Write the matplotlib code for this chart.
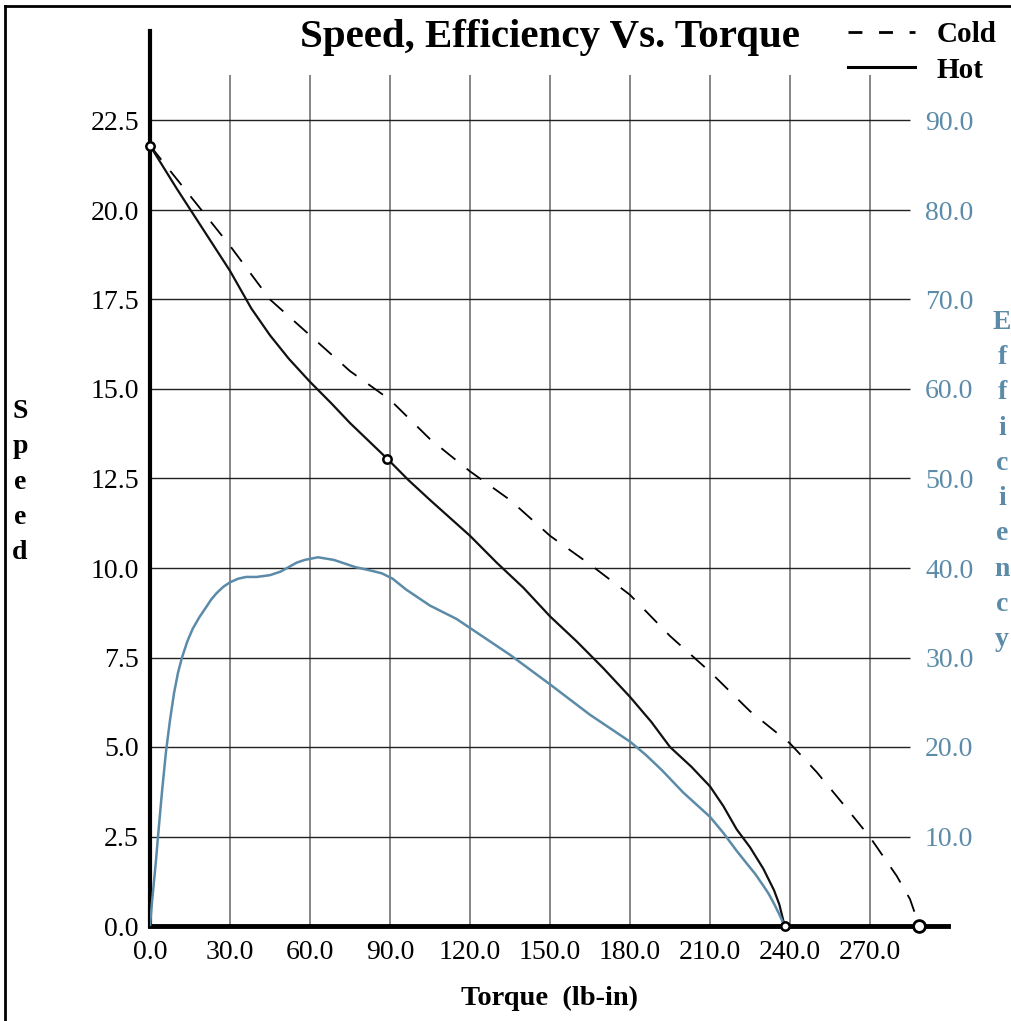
import matplotlib
matplotlib.use("Agg")
import matplotlib.pyplot as plt
from matplotlib.lines import Line2D

plt.rcParams['font.family'] = ['Liberation Serif', 'DejaVu Serif']

# data
hot_torque = [0, 10, 20, 30, 38, 45, 52, 60, 68, 75, 82, 89, 97, 105, 120, 130, 140,
              150, 160, 170, 180, 188, 195, 203, 210, 215, 220, 225, 230, 234, 236, 238]
hot_speed = [21.8, 20.6, 19.45, 18.3, 17.25, 16.5, 15.85, 15.2, 14.6, 14.05, 13.55, 13.05,
             12.45, 11.9, 10.9, 10.15, 9.45, 8.65, 7.95, 7.2, 6.4, 5.7, 5.0, 4.45, 3.9,
             3.35, 2.7, 2.2, 1.6, 1.0, 0.6, 0.0]

cold_torque = [0, 15, 30, 45, 60, 75, 90, 105, 120, 135, 150, 165, 180, 195, 210, 225,
               240, 250, 260, 270, 280, 285, 288.5]
cold_speed = [21.8, 20.4, 19.0, 17.5, 16.5, 15.5, 14.7, 13.6, 12.7, 11.9, 10.9, 10.1,
              9.25, 8.1, 7.1, 6.0, 5.1, 4.3, 3.4, 2.48, 1.4, 0.75, 0.0]

eff_torque = [0, 0.7, 1.5, 2.3, 3, 4.5, 6, 7.5, 9, 10.5, 12, 14, 16, 18.5, 21, 23, 25,
              27.5, 30, 33, 36, 40, 45, 49, 52, 55, 58, 63, 69, 77, 83, 87, 91, 96, 100,
              105, 115, 125, 135, 150, 165, 180, 186, 192, 200, 210, 215, 220, 224, 227,
              230, 232, 234, 236, 238]
eff_value = [0, 2.5, 5, 7.5, 10, 15, 19.5, 23, 26, 28.3, 30, 31.8, 33.2, 34.5, 35.6,
             36.5, 37.2, 37.9, 38.4, 38.8, 39.0, 39.0, 39.2, 39.6, 40.1, 40.6, 40.9,
             41.2, 40.9, 40.1, 39.7, 39.4, 38.8, 37.6, 36.8, 35.8, 34.3, 32.3, 30.3,
             27.0, 23.6, 20.6, 19.1, 17.4, 14.9, 12.2, 10.4, 8.4, 6.9, 5.8, 4.5, 3.6,
             2.5, 1.3, 0.0]

marker_torque = [0, 89, 238]
marker_speed = [21.8, 13.05, 0]
stall_cold = (288.5, 0)

x_ticks = [0, 30, 60, 90, 120, 150, 180, 210, 240, 270]
speed_ticks = [0, 2.5, 5, 7.5, 10, 12.5, 15, 17.5, 20, 22.5]
eff_ticks = [10, 20, 30, 40, 50, 60, 70, 80, 90]

blue = '#5b8ba8'
W, H = 1012, 1021

fig = plt.figure(figsize=(W / 100, H / 100), dpi=100)
ax = fig.add_axes([150 / W, (H - 926) / H, 798 / W, 895 / H])
ax.set_xlim(0, 299.25)
ax.set_ylim(0, 25)

# grid drawn by hand, it doesn't span the whole axes
ax.vlines(x_ticks[1:], 0, 23.76, color='#666666', lw=1.1, zorder=1)
ax.hlines(speed_ticks[1:], 0, 285, color='#222222', lw=1.0, zorder=1)

ax.plot(cold_torque, cold_speed, color='black', lw=1.3, ls=(0, (10, 8)), zorder=3)
ax.plot(hot_torque, hot_speed, color='#111111', lw=1.6, zorder=3)

ax2 = ax.twinx()
ax2.set_ylim(0, 100)
ax2.plot(eff_torque, eff_value, color=blue, lw=1.8, zorder=3)
ax2.set_yticks(eff_ticks)
ax2.set_yticklabels([f'{v:.1f}' for v in eff_ticks])
ax2.tick_params(axis='y', length=0, pad=-16.5, labelcolor=blue, labelsize=20)
for s in ax2.spines.values():
    s.set_visible(False)

ax2.plot(marker_torque, [v * 4 for v in marker_speed], 'o', ms=6, mfc='white',
         mec='black', mew=1.8, zorder=5, clip_on=False)
ax2.plot(stall_cold[0], stall_cold[1], 'o', ms=8.5, mfc='white', mec='black',
         mew=2, zorder=5, clip_on=False)

ax.set_xticks(x_ticks)
ax.set_xticklabels([f'{v:.1f}' for v in x_ticks])
ax.set_yticks(speed_ticks)
ax.set_yticklabels([f'{v:.1f}' for v in speed_ticks])
ax.tick_params(length=0, labelsize=20)
ax.tick_params(axis='y', pad=8)
ax.tick_params(axis='x', pad=10)

ax.spines['top'].set_visible(False)
ax.spines['right'].set_visible(False)
ax.spines['left'].set_linewidth(3)
ax.spines['bottom'].set_linewidth(3.5)

fig.text(550 / W, 1 - 38 / H, 'Speed, Efficiency Vs. Torque', ha='center',
         va='center', fontsize=29.5, fontweight='bold')
fig.text(550 / W, 1 - 998 / H, 'Torque  (lb-in)', ha='center', va='center',
         fontsize=20.5, fontweight='bold')
fig.text(20 / W, 1 - 482 / H, '\n'.join('Speed'), ha='center', va='center',
         fontsize=20, fontweight='bold', linespacing=1.54)
fig.text(1002 / W, 1 - 481 / H, '\n'.join('Efficiency'), ha='center', va='center',
         fontsize=20, fontweight='bold', color=blue, linespacing=1.54)

handles = [Line2D([], [], color='black', lw=2, ls=(0, (5, 6))),
           Line2D([], [], color='black', lw=2.2)]
fig.legend(handles, ['Cold', 'Hot'], loc='upper left',
           bbox_to_anchor=(830 / W, 1 - 4 / H), frameon=False, borderpad=0.1,
           prop={'weight': 'bold', 'size': 21}, handlelength=2.3,
           labelspacing=0.28, handletextpad=0.75)

# page border (left and top only are visible)
fig.add_artist(Line2D([5 / W, 5 / W], [0, 1 - 6 / H], color='black', lw=2,
                      transform=fig.transFigure))
fig.add_artist(Line2D([5 / W, 1], [1 - 6 / H, 1 - 6 / H], color='black', lw=2,
                      transform=fig.transFigure))

fig.savefig('out.png', dpi=100)
